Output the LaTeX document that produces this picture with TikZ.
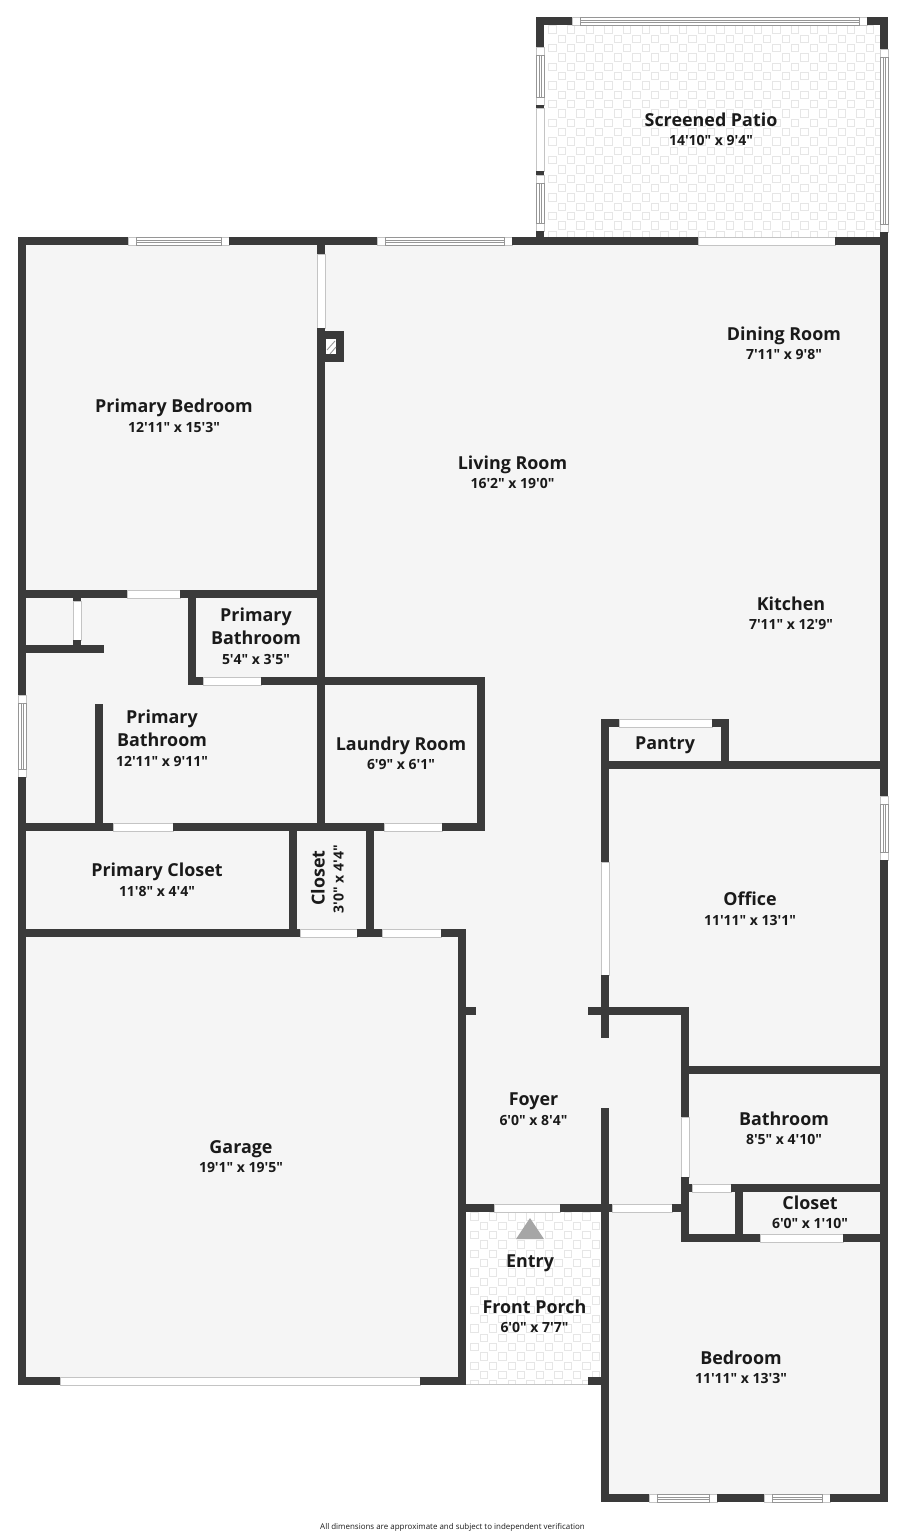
\documentclass[tikz,border=0pt]{standalone}
\usepackage{fontspec}
\newfontfamily\plansans{Open Sans}
\definecolor{wallc}{HTML}{3A3A3A}
\definecolor{floorc}{HTML}{F5F5F5}
\definecolor{tilec}{HTML}{E6E6E6}
\definecolor{edgec}{HTML}{C4C4C4}
\definecolor{winc}{HTML}{969696}
\definecolor{textc}{HTML}{1A1A1A}
\newcommand{\wallH}[3]{\fill[wallc] (#1,#3) rectangle (#2,#3+8);}
\newcommand{\wallV}[3]{\fill[wallc] (#3,#1) rectangle (#3+8,#2);}
\newcommand{\doorH}[3]{\filldraw[opening] (#1,#3) rectangle (#2,#3+8);}
\newcommand{\doorV}[3]{\filldraw[opening] (#3,#1) rectangle (#3+8,#2);}
\newcommand{\winH}[3]{%
  \filldraw[opening] (#1,#3) rectangle (#1+8,#3+8);
  \filldraw[opening] (#2-8,#3) rectangle (#2,#3+8);
  \filldraw[glazing] (#1+8,#3) rectangle (#2-8,#3+8);
  \draw[glazing] (#1+8,#3+3.2) -- (#2-8,#3+3.2) (#1+8,#3+4.8) -- (#2-8,#3+4.8);}
\newcommand{\winV}[3]{%
  \filldraw[opening] (#3,#1) rectangle (#3+8,#1+8);
  \filldraw[opening] (#3,#2-8) rectangle (#3+8,#2);
  \filldraw[glazing] (#3,#1+8) rectangle (#3+8,#2-8);
  \draw[glazing] (#3+3.2,#1+8) -- (#3+3.2,#2-8) (#3+4.8,#1+8) -- (#3+4.8,#2-8);}
\newcommand{\tiles}[4]{%
  \begin{scope}
    \clip (#1,#2) rectangle (#3,#4);
    \fill[white] (#1,#2) rectangle (#3,#4);
    \foreach \r in {0,...,24}{
      \pgfmathsetmacro{\yy}{#2+4.6+9.33*\r}
      \pgfmathsetmacro{\xo}{#1+8.5+mod(\r,2)*9.33}
      \foreach \c in {0,...,18}{
        \draw[tilec,line width=1pt] (\xo+18.67*\c-3.7,\yy-3.7) rectangle ++(7.4,7.4);
      }
    }
  \end{scope}}
\tikzset{
  x=1pt,y=-1pt,
  opening/.style={fill=white,draw=edgec,line width=.5pt},
  glazing/.style={draw=winc,line width=.5pt,fill=white},
  rname/.style={text=textc,font=\plansans\fontsize{17.9}{20}\selectfont\bfseries,anchor=base,inner sep=0pt},
  rdim/.style={text=textc,font=\plansans\fontsize{14}{16}\selectfont\bfseries,anchor=base,inner sep=0pt},
  rnote/.style={text=textc,font=\plansans\fontsize{7.95}{10}\selectfont,inner sep=0pt}
}
\begin{document}
\begin{tikzpicture}
\useasboundingbox (0,0) rectangle (905,1536);
\fill[white] (0,0) rectangle (905,1536);
% floors
\fill[floorc] (18,237) rectangle (888,1385);
\fill[floorc] (601,1385) rectangle (888,1502);
\tiles{544}{25}{880}{237}
\tiles{466}{1212}{601}{1384}
\draw[edgec,line width=.5pt] (466,1384) -- (588,1384);
% patio walls
\wallH{536}{572}{17}
\winH{572}{867}{17}
\wallH{867}{888}{17}
\wallV{17}{47}{536}
\winV{47}{105}{536}
\wallV{105}{108}{536}
\doorV{108}{171}{536}
\wallV{171}{175}{536}
\winV{175}{231}{536}
\wallV{231}{245}{536}
\wallV{17}{49}{880}
\winV{49}{232}{880}
% top wall
\wallH{18}{128}{237}
\winH{128}{229}{237}
\wallH{229}{377}{237}
\winH{377}{512}{237}
\wallH{512}{698}{237}
\doorH{698}{835}{237}
\wallH{835}{888}{237}
% outer walls
\wallV{237}{695}{18}
\winV{695}{777}{18}
\wallV{777}{1385}{18}
\wallV{232}{796}{880}
\winV{796}{860}{880}
\wallV{860}{1502}{880}
% bottom of garage
\wallH{18}{60}{1377}
\doorH{60}{420}{1377}
\wallH{420}{466}{1377}
\wallV{929}{1385}{458}
\wallH{458}{476}{1007}
% centre-left wall
\wallV{237}{254}{317}
\doorV{254}{328}{317}
\wallV{328}{831}{317}
% fireplace
\fill[wallc] (325,331) rectangle (344,362);
\fill[white] (325.5,339) rectangle (336,354);
\draw[winc,line width=.9pt] (327,350) -- (335,341) (330,354) -- (336,347);
% primary bedroom / bath
\wallH{18}{127}{590}
\doorH{127}{180}{590}
\wallH{180}{325}{590}
\wallV{590}{685}{188}
\wallH{188}{203}{677}
\doorH{203}{261}{677}
\wallH{261}{485}{677}
\wallV{677}{831}{477}
\wallH{18}{104}{645}
\wallV{598}{601}{73}
\doorV{601}{640}{73}
\wallV{640}{650}{73}
\wallV{704}{828}{95}
\wallH{18}{113}{823}
\doorH{113}{173}{823}
\wallH{173}{384}{823}
\doorH{384}{442}{823}
\wallH{442}{485}{823}
\wallV{823}{937}{289}
\wallV{823}{937}{366}
\wallH{18}{300}{929}
\doorH{300}{357}{929}
\wallH{357}{382}{929}
\doorH{382}{441}{929}
\wallH{441}{466}{929}
% pantry / office
\wallH{601}{619}{719}
\doorH{619}{712}{719}
\wallH{712}{729}{719}
\wallV{719}{769}{721}
\wallH{601}{888}{761}
\wallV{719}{862}{601}
\doorV{862}{975}{601}
\wallV{975}{1038}{601}
\wallH{588}{689}{1007}
\wallV{1007}{1117}{681}
\doorV{1117}{1177}{681}
\wallV{1177}{1242}{681}
\wallH{681}{888}{1066}
\wallV{1108}{1502}{601}
% foyer bottom
\wallH{458}{494}{1204}
\doorH{494}{560}{1204}
\wallH{560}{612}{1204}
\doorH{612}{672}{1204}
\wallH{672}{689}{1204}
% closet
\wallH{681}{692}{1184}
\doorH{692}{731}{1184}
\wallH{731}{888}{1184}
\wallV{1184}{1242}{735}
\wallH{681}{760}{1234}
\doorH{760}{843}{1234}
\wallH{843}{888}{1234}
\wallH{588}{609}{1377}
% bedroom bottom
\wallH{601}{649}{1494}
\winH{649}{717}{1494}
\wallH{717}{764}{1494}
\winH{764}{830}{1494}
\wallH{830}{888}{1494}
% entry arrow
\fill[black!35] (530,1218) -- (544,1239) -- (516,1239) -- cycle;
% labels
\node[rname] (n1) at (711,126.5) {Screened Patio};
\node[rdim] (d1) at (711,146) {14'10" x 9'4"};
\node[rname] (n2) at (784,340.5) {Dining Room};
\node[rdim] (d2) at (784,359.5) {7'11" x 9'8"};
\node[rname] (n3) at (174,412.5) {Primary Bedroom};
\node[rdim] (d3) at (174,432) {12'11" x 15'3"};
\node[rname] (n4) at (512.5,469) {Living Room};
\node[rdim] (d4) at (512.5,488.5) {16'2" x 19'0"};
\node[rname] (n5) at (791,610) {Kitchen};
\node[rdim] (d5) at (791,629.5) {7'11" x 12'9"};
\node[rname] (n6) at (256,621.5) {Primary};
\node[rname] (n6b) at (256,644.5) {Bathroom};
\node[rdim] (d6) at (256,664) {5'4" x 3'5"};
\node[rname] (n7) at (162,723.5) {Primary};
\node[rname] (n7b) at (162,746.5) {Bathroom};
\node[rdim] (d7) at (162,766) {12'11" x 9'11"};
\node[rname] (n8) at (401,750) {Laundry Room};
\node[rdim] (d8) at (401,769.5) {6'9" x 6'1"};
\node[rname] (n9) at (665,749) {Pantry};
\node[rname] (n10) at (157,876.5) {Primary Closet};
\node[rdim] (d10) at (157,896) {11'8" x 4'4"};
\node[rname,rotate=90] (n11) at (324.5,878) {Closet};
\node[rdim,rotate=90] (d11) at (343.5,879) {3'0" x 4'4"};
\node[rname] (n12) at (750,905.5) {Office};
\node[rdim] (d12) at (750,925.5) {11'11" x 13'1"};
\node[rname] (n13) at (533.5,1105.5) {Foyer};
\node[rdim] (d13) at (533.5,1125) {6'0" x 8'4"};
\node[rname] (n14) at (784,1125) {Bathroom};
\node[rdim] (d14) at (784,1144) {8'5" x 4'10"};
\node[rname] (n15) at (810,1209) {Closet};
\node[rdim] (d15) at (810,1228.5) {6'0" x 1'10"};
\node[rname] (n16) at (241,1153.5) {Garage};
\node[rdim] (d16) at (241,1172.5) {19'1" x 19'5"};
\node[rname] (n17) at (530,1267) {Entry};
\node[rname] (n18) at (534.5,1313.5) {Front Porch};
\node[rdim] (d18) at (534.5,1332.5) {6'0" x 7'7"};
\node[rname] (n19) at (741,1364) {Bedroom};
\node[rdim] (d19) at (741,1383.5) {11'11" x 13'3"};
\node[rnote] (note) at (452.5,1527.5) {All dimensions are approximate and subject to independent verification};
\end{tikzpicture}
\end{document}
